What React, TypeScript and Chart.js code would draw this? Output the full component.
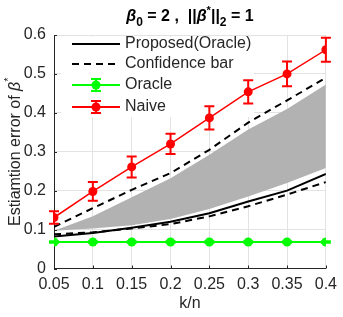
import React, { useEffect, useRef } from "react";
import { Chart, registerables } from "chart.js";

Chart.register(...registerables);

const xVals = [0.05, 0.1, 0.15, 0.2, 0.25, 0.3, 0.35, 0.4];
const xTickLabels = ["0.05", "0.1", "0.15", "0.2", "0.25", "0.3", "0.35", "0.4"];
const yTickLabels = ["0", "0.1", "0.2", "0.3", "0.4", "0.5", "0.6"];

const naive = [0.131, 0.198, 0.261, 0.32, 0.387, 0.454, 0.5, 0.562];
const naiveErr = [0.016, 0.024, 0.027, 0.026, 0.03, 0.03, 0.032, 0.031];
const oracle = [0.068, 0.068, 0.068, 0.068, 0.068, 0.068, 0.068, 0.068];
const oracleErr = [0.002, 0.002, 0.002, 0.002, 0.002, 0.002, 0.002, 0.002];
const proposed = [0.082, 0.091, 0.105, 0.12, 0.142, 0.172, 0.2, 0.243];
const confLow = [0.088, 0.093, 0.103, 0.114, 0.134, 0.16, 0.19, 0.222];
const confHigh = [0.107, 0.155, 0.202, 0.245, 0.305, 0.375, 0.432, 0.49];
const bandLow = [0.097, 0.103, 0.111, 0.127, 0.153, 0.185, 0.22, 0.258];
const bandHigh = [0.097, 0.134, 0.183, 0.232, 0.292, 0.357, 0.41, 0.473];

const legendLabels = ["Proposed(Oracle)", "Confidence bar", "Oracle", "Naive"];

const FONT = "'Liberation Sans', Arial, sans-serif";
const RED = "#ff0000";
const GREEN = "#00ff00";

const pts = (ys: number[]) => xVals.map((x, i) => ({ x, y: ys[i] }));

export default function App() {
  const ref = useRef<HTMLCanvasElement | null>(null);

  useEffect(() => {
    if (!ref.current) return;

    const errPlugin = {
      id: "errbars",
      beforeDatasetsDraw(chart: any) {
        const ctx = chart.ctx;
        const area = chart.chartArea;
        ctx.save();
        ctx.fillStyle = "#ffffff";
        ctx.fillRect(area.left + 7, area.top + 2, 193, 80);
        ctx.restore();
      },
      afterDatasetsDraw(chart: any) {
        const ctx = chart.ctx;
        const xs = chart.scales.x;
        const ys = chart.scales.y;
        const draw = (vals: number[], errs: number[], color: string) => {
          ctx.save();
          ctx.strokeStyle = color;
          ctx.lineWidth = 2;
          xVals.forEach((xv, i) => {
            const px = xs.getPixelForValue(xv);
            const top = ys.getPixelForValue(vals[i] + errs[i]);
            const bot = ys.getPixelForValue(vals[i] - errs[i]);
            ctx.beginPath();
            ctx.moveTo(px, top);
            ctx.lineTo(px, bot);
            ctx.moveTo(px - 5, top);
            ctx.lineTo(px + 5, top);
            ctx.moveTo(px - 5, bot);
            ctx.lineTo(px + 5, bot);
            ctx.stroke();
          });
          ctx.restore();
        };
        draw(oracle, oracleErr, GREEN);
        draw(naive, naiveErr, RED);
      },
      afterDraw(chart: any) {
        const ctx = chart.ctx;
        const xs = chart.scales.x;
        const ys = chart.scales.y;
        const area = chart.chartArea;
        ctx.save();
        // inner ticks
        ctx.strokeStyle = "#262626";
        ctx.lineWidth = 1;
        ctx.beginPath();
        xVals.forEach((xv) => {
          const px = Math.round(xs.getPixelForValue(xv)) + 0.5;
          ctx.moveTo(px, area.bottom);
          ctx.lineTo(px, area.bottom - 3);
        });
        yTickLabels.forEach((t) => {
          const py = Math.round(ys.getPixelForValue(parseFloat(t))) + 0.5;
          ctx.moveTo(area.left, py);
          ctx.lineTo(area.left + 3, py);
        });
        ctx.stroke();

        // legend
        const rows = [44, 64, 85, 107];
        const x0 = 72;
        const x1 = 120;
        ctx.textBaseline = "middle";
        ctx.textAlign = "left";
        ctx.font = `16px ${FONT}`;
        rows.forEach((ry, i) => {
          ctx.save();
          if (i === 0) {
            ctx.strokeStyle = "#000";
            ctx.lineWidth = 2;
          } else if (i === 1) {
            ctx.strokeStyle = "#000";
            ctx.lineWidth = 2;
            ctx.setLineDash([7, 5]);
          } else {
            ctx.strokeStyle = i === 2 ? GREEN : RED;
            ctx.lineWidth = 2;
          }
          ctx.beginPath();
          ctx.moveTo(x0, ry);
          ctx.lineTo(x1, ry);
          ctx.stroke();
          ctx.setLineDash([]);
          if (i >= 2) {
            const c = i === 2 ? GREEN : RED;
            const mx = (x0 + x1) / 2;
            ctx.beginPath();
            ctx.moveTo(mx, ry - 6);
            ctx.lineTo(mx, ry + 6);
            ctx.moveTo(mx - 5, ry - 6);
            ctx.lineTo(mx + 5, ry - 6);
            ctx.moveTo(mx - 5, ry + 6);
            ctx.lineTo(mx + 5, ry + 6);
            ctx.stroke();
            ctx.fillStyle = c;
            ctx.beginPath();
            ctx.arc(mx, ry, 4.5, 0, Math.PI * 2);
            ctx.fill();
          }
          ctx.restore();
          ctx.fillStyle = "#262626";
          ctx.fillText(legendLabels[i], 125, ry);
        });

        // title
        ctx.fillStyle = "#000";
        ctx.textBaseline = "alphabetic";
        const cx = (area.left + area.right) / 2;
        const segs: { t: string; f: string; dy: number }[] = [
          { t: "β", f: `italic bold 16px ${FONT}`, dy: 0 },
          { t: "0", f: `bold 12px ${FONT}`, dy: 5 },
          { t: " = 2 ,  ||", f: `bold 16px ${FONT}`, dy: 0 },
          { t: "β", f: `italic bold 16px ${FONT}`, dy: 0 },
          { t: "*", f: `bold 11px ${FONT}`, dy: -7 },
          { t: "||", f: `bold 16px ${FONT}`, dy: 0 },
          { t: "2", f: `bold 12px ${FONT}`, dy: 5 },
          { t: " = 1", f: `bold 16px ${FONT}`, dy: 0 },
        ];
        let total = 0;
        segs.forEach((s) => {
          ctx.font = s.f;
          total += ctx.measureText(s.t).width;
        });
        let tx = cx - total / 2;
        const ty = 21;
        segs.forEach((s) => {
          ctx.font = s.f;
          ctx.fillText(s.t, tx, ty + s.dy);
          tx += ctx.measureText(s.t).width;
        });

        // y title
        ctx.save();
        ctx.translate(20, (area.top + area.bottom) / 2);
        ctx.rotate(-Math.PI / 2);
        const ysegs: { t: string; f: string; dy: number }[] = [
          { t: "Estiamtion error of ", f: `16px ${FONT}`, dy: 0 },
          { t: "β", f: `italic 16px ${FONT}`, dy: 0 },
          { t: "*", f: `11px ${FONT}`, dy: -8 },
        ];
        let tw = 0;
        ysegs.forEach((s) => {
          ctx.font = s.f;
          tw += ctx.measureText(s.t).width;
        });
        let yx = -tw / 2;
        ctx.fillStyle = "#262626";
        ysegs.forEach((s) => {
          ctx.font = s.f;
          ctx.fillText(s.t, yx, 0 + s.dy);
          yx += ctx.measureText(s.t).width;
        });
        ctx.restore();

        // x title
        ctx.font = `16px ${FONT}`;
        ctx.textAlign = "center";
        ctx.fillStyle = "#262626";
        ctx.fillText("k/n", cx, 308);
        ctx.restore();
      },
    };

    const chart = new Chart(ref.current, {
      type: "line",
      data: {
        datasets: [
          {
            label: "Naive",
            data: pts(naive),
            borderColor: RED,
            backgroundColor: RED,
            borderWidth: 1.5,
            pointRadius: 4.5,
            pointBorderWidth: 0,
            pointBackgroundColor: RED,
          },
          {
            label: "Oracle",
            data: pts(oracle),
            borderColor: GREEN,
            backgroundColor: GREEN,
            borderWidth: 2,
            pointRadius: 4.5,
            pointBorderWidth: 0,
            pointBackgroundColor: GREEN,
          },
          {
            label: "Proposed(Oracle)",
            data: pts(proposed),
            borderColor: "#000",
            borderWidth: 2,
            pointRadius: 0,
          },
          {
            label: "Confidence bar",
            data: pts(confLow),
            borderColor: "#000",
            borderWidth: 2,
            borderDash: [7, 5],
            pointRadius: 0,
          },
          {
            label: "Confidence bar high",
            data: pts(confHigh),
            borderColor: "#000",
            borderWidth: 2,
            borderDash: [7, 5],
            pointRadius: 0,
          },
          {
            label: "band high",
            data: pts(bandHigh),
            borderWidth: 0,
            borderColor: "rgba(0,0,0,0)",
            backgroundColor: "rgb(178,178,178)",
            fill: "+1",
            pointRadius: 0,
          },
          {
            label: "band low",
            data: pts(bandLow),
            borderWidth: 0,
            borderColor: "rgba(0,0,0,0)",
            pointRadius: 0,
            fill: false,
          },
        ],
      },
      options: {
        animation: false,
        responsive: false,
        maintainAspectRatio: false,
        layout: { padding: { top: 35, right: 16, left: 0, bottom: 0 } },
        plugins: {
          legend: { display: false },
          tooltip: { enabled: false },
          title: { display: false },
        },
        scales: {
          x: {
            type: "linear",
            min: 0.05,
            max: 0.4,
            afterBuildTicks: (s: any) => {
              s.ticks = xVals.map((v) => ({ value: v }));
            },
            afterFit: (s: any) => {
              s.height = 48.5;
            },
            ticks: {
              callback: (v: any) => {
                const i = xVals.findIndex((x) => Math.abs(x - v) < 1e-6);
                return i >= 0 ? xTickLabels[i] : "";
              },
              font: { family: FONT, size: 16 },
              color: "#262626",
              padding: 6,
              maxRotation: 0,
              autoSkip: false,
            },
            grid: { color: "#e3e3e3", drawTicks: false, lineWidth: 1 },
            border: { color: "#262626", width: 1 },
          },
          y: {
            type: "linear",
            min: 0,
            max: 0.6,
            afterBuildTicks: (s: any) => {
              s.ticks = yTickLabels.map((t) => ({ value: parseFloat(t) }));
            },
            afterFit: (s: any) => {
              s.width = 54;
            },
            ticks: {
              callback: (v: any) => {
                const i = yTickLabels.findIndex((t) => Math.abs(parseFloat(t) - v) < 1e-6);
                return i >= 0 ? yTickLabels[i] : "";
              },
              font: { family: FONT, size: 16 },
              color: "#262626",
              padding: 8,
            },
            grid: { color: "#e3e3e3", drawTicks: false, lineWidth: 1 },
            border: { color: "#262626", width: 1 },
          },
        },
      },
      plugins: [errPlugin],
    } as any);

    return () => chart.destroy();
  }, []);

  return (
    <div style={{ position: "fixed", left: 0, top: 0, width: 343, height: 317, background: "#fff" }}>
      <canvas ref={ref} width={343} height={317} style={{ width: 343, height: 317 }} />
    </div>
  );
}
